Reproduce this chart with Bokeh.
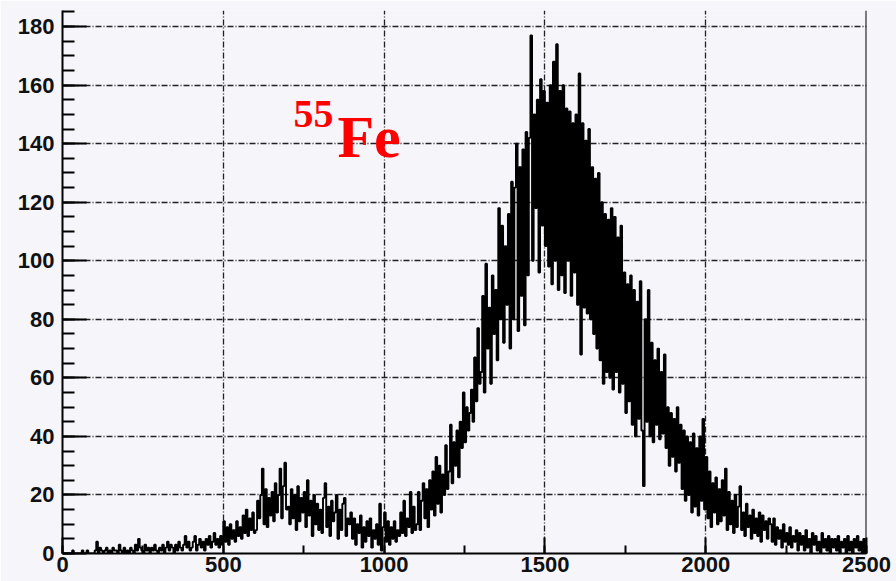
from bokeh.plotting import figure
from bokeh.models import Range1d, SingleIntervalTicker, Span, Label
from bokeh.embed import file_html
from bokeh.resources import INLINE

# Pulse-height spectrum, 5-channel bins from 0 to 2500
BIN_WIDTH = 5
X_MAX = 2500
Y_MAX = 185.5

counts_0000_0500 = [
    0, 0, 0, 0, 0, 0, 1, 0, 0, 0, 0, 0, 1, 0, 0, 1, 0, 0, 0, 0,
    1, 4, 0, 2, 1, 0, 1, 2, 0, 1, 0, 2, 1, 1, 0, 3, 1, 0, 2, 0,
    1, 0, 2, 1, 0, 3, 1, 5, 2, 1, 0, 3, 1, 2, 0, 2, 1, 3, 1, 0,
    2, 1, 3, 0, 2, 4, 1, 3, 2, 0, 3, 1, 4, 2, 1, 3, 6, 2, 4, 1,
    2, 4, 6, 1, 3, 5, 2, 4, 1, 5, 3, 6, 2, 4, 7, 3, 5, 2, 6, 3,
]
counts_0500_1000 = [
    11, 4, 9, 3, 10, 5, 8, 4, 11, 6, 9, 5, 13, 7, 15, 6, 12, 8, 14, 7,
    8, 18, 12, 20, 29, 10, 22, 9, 19, 13, 21, 11, 24, 14, 20, 29, 12, 23, 31, 15,
    16, 10, 22, 12, 20, 8, 23, 11, 19, 14, 21, 9, 25, 13, 18, 6, 20, 10, 17, 8,
    15, 7, 19, 24, 9, 16, 6, 18, 11, 14, 20, 5, 15, 8, 17, 19, 6, 12, 10, 14,
    5, 12, 3, 10, 7, 13, 2, 9, 4, 11, 6, 12, 2, 8, 5, 10, 3, 17, 1, 9,
]
counts_1000_1500 = [
    14, 4, 11, 3, 9, 5, 11, 4, 8, 6, 14, 7, 18, 6, 12, 9, 21, 7, 16, 8,
    10, 21, 8, 18, 24, 12, 22, 9, 25, 15, 28, 13, 33, 17, 30, 14, 27, 20, 37, 22,
    28, 44, 24, 38, 30, 42, 26, 45, 36, 55, 38, 50, 42, 48, 56, 45, 67, 52, 77, 58,
    62, 88, 55, 99, 70, 84, 58, 95, 75, 90, 66, 118, 80, 112, 72, 105, 85, 116, 70, 127,
    80, 125, 140, 76, 132, 88, 138, 78, 144, 95, 142, 177, 100, 150, 118, 155, 96, 162, 112, 158,
]
counts_1500_2000 = [
    105, 154, 98, 160, 92, 168, 100, 174, 90, 158, 95, 160, 89, 152, 100, 151, 88, 147, 96, 150,
    85, 164, 68, 147, 84, 141, 82, 145, 80, 132, 75, 128, 70, 130, 66, 120, 58, 116, 62, 114,
    60, 118, 56, 115, 62, 108, 55, 112, 58, 96, 48, 92, 52, 95, 44, 90, 40, 86, 46, 93,
    42, 23, 80, 45, 90, 40, 72, 38, 66, 44, 70, 39, 62, 41, 68, 36, 50, 30, 48, 33,
    46, 28, 50, 31, 44, 22, 42, 18, 40, 20, 38, 14, 41, 16, 36, 13, 40, 18, 46, 15,
]
counts_2000_2500 = [
    33, 12, 28, 9, 24, 14, 26, 10, 22, 11, 25, 13, 29, 8, 21, 10, 18, 7, 20, 9,
    16, 23, 8, 14, 6, 17, 9, 13, 5, 15, 7, 12, 6, 14, 4, 13, 8, 11, 5, 12,
    10, 4, 12, 3, 9, 5, 8, 2, 10, 4, 7, 3, 9, 2, 6, 4, 8, 1, 7, 3,
    6, 1, 8, 2, 5, 0, 7, 3, 6, 1, 4, 0, 7, 2, 5, 1, 6, 0, 5, 2,
    5, 1, 6, 0, 4, 2, 5, 0, 6, 1, 4, 0, 5, 2, 6, 1, 4, 0, 5, 0,
]

x_ticks = [0, 500, 1000, 1500, 2000, 2500]
y_ticks = [0, 20, 40, 60, 80, 100, 120, 140, 160, 180]

counts = (counts_0000_0500 + counts_0500_1000 + counts_1000_1500
          + counts_1500_2000 + counts_2000_2500)
edges = [i * BIN_WIDTH for i in range(len(counts) + 1)]
step_y = counts + [counts[-1]]

BG = "#f5f5fa"

p = figure(width=896, height=581, output_backend="svg", toolbar_location=None,
           x_range=Range1d(0, X_MAX), y_range=Range1d(0, Y_MAX),
           min_border_left=62, min_border_right=30, min_border_top=10,
           min_border_bottom=28)
p.background_fill_color = BG
p.border_fill_color = BG
p.outline_line_color = None

# Histogram drawn as a step outline
p.step(x=edges, y=step_y, mode="after", line_color="black", line_width=1.9)

# Right frame edge
p.add_layout(Span(location=X_MAX, dimension="height", line_color="black", line_width=2))

# Axes in the ROOT style: ticks inside the frame
p.xaxis.ticker = SingleIntervalTicker(interval=500, num_minor_ticks=2)
p.yaxis.ticker = SingleIntervalTicker(interval=20, num_minor_ticks=4)
for ax in (p.xaxis[0], p.yaxis[0]):
    ax.axis_line_color = "black"
    ax.axis_line_width = 2
    ax.major_tick_line_color = "black"
    ax.major_tick_line_width = 2
    ax.minor_tick_line_color = "black"
    ax.minor_tick_line_width = 2
    ax.major_tick_out = 0
    ax.minor_tick_out = 0
    ax.major_label_text_font = "Liberation Sans"
    ax.major_label_text_font_style = "bold"
    ax.major_label_text_font_size = "22px"
    ax.major_label_text_color = "#111111"
p.yaxis.major_tick_in = 24
p.yaxis.minor_tick_in = 12
p.yaxis.major_label_standoff = 8
p.xaxis.major_tick_in = 16
p.xaxis.minor_tick_in = 8
p.xaxis.major_label_standoff = 3

# Dash-dot grid
for g in (p.xgrid[0], p.ygrid[0]):
    g.grid_line_color = "#222222"
    g.grid_line_width = 1.3
    g.grid_line_dash = "6 2 1 2"

# Isotope label
p.add_layout(Label(x=718, y=150.0, text="55", text_color="#ff0000",
                   text_font="Liberation Serif", text_font_style="bold",
                   text_font_size="40px", text_baseline="alphabetic"))
p.add_layout(Label(x=855, y=142.4, text="Fe", text_color="#ff0000",
                   text_font="Liberation Serif", text_font_style="bold",
                   text_font_size="60px", text_baseline="alphabetic"))

open("out.html", "w").write(file_html(p, INLINE))
